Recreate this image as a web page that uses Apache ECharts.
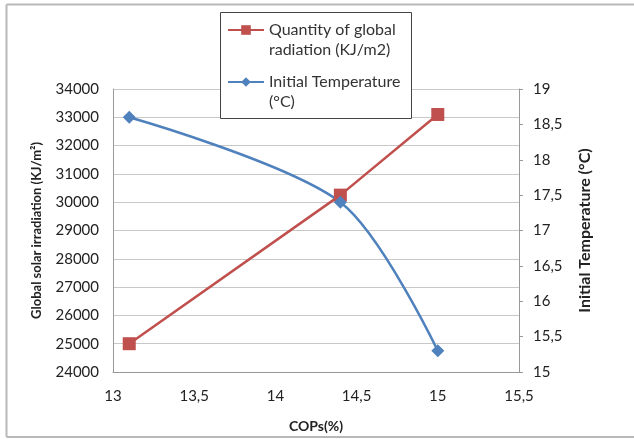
<!DOCTYPE html>
<html>
<head>
<meta charset="utf-8">
<script src="https://cdn.jsdelivr.net/npm/echarts@6/dist/echarts.min.js"></script>
<style>
html,body{margin:0;padding:0;background:#fff;}
#main{width:634px;height:439px;}
</style>
</head>
<body>
<div id="main"></div>
<script>
const cops = [13.1, 14.4, 15.0];
const radiation = [25000, 30250, 33100];
const temperature = [18.6, 17.4, 15.3];
const seriesNames = ['Quantity of global\nradiation (KJ/m2)', 'Initial Temperature\n(°C)'];
const xTitle = 'COPs(%)';
const yLeftTitle = 'Global solar irradiation (KJ/m²)';
const yRightTitle = 'Initial Temperature (°C)';

const font = 'Lato';
const comma = v => String(v).replace('.', ',');
const chart = echarts.init(document.getElementById('main'), null, {renderer: 'canvas'});
chart.setOption({
  animation: false,
  backgroundColor: '#fff',
  textStyle: {fontFamily: font},
  graphic: [
    {type: 'line', z: 0, shape: {x1: 6.5, y1: 4.5, x2: 634, y2: 4.5}, style: {stroke: '#b8b8b8', lineWidth: 2}},
    {type: 'line', z: 0, shape: {x1: 6.5, y1: 4.5, x2: 6.5, y2: 437}, style: {stroke: '#b8b8b8', lineWidth: 2}},
    {type: 'line', z: 0, shape: {x1: 6.5, y1: 437, x2: 634, y2: 437}, style: {stroke: '#b8b8b8', lineWidth: 2}},
    {type: 'rect', z: 3, shape: {x: 220.5, y: 12.5, width: 191, height: 106}, style: {fill: '#fff', stroke: '#444', lineWidth: 1}}
  ],
  grid: {left: 113, right: 115, top: 89, bottom: 67},
  legend: {
    orient: 'vertical',
    left: 227, top: 0,
    padding: 0,
    itemWidth: 36, itemHeight: 12,
    itemGap: -8,
    formatter: name => '\n' + name,
    textStyle: {fontFamily: font, fontSize: 16, color: '#333', lineHeight: 20},
    data: seriesNames
  },
  xAxis: {
    type: 'value', min: 13, max: 15.5, interval: 0.5,
    name: xTitle, nameLocation: 'middle', nameGap: 47,
    nameTextStyle: {fontFamily: font, fontSize: 14, fontWeight: 'bold', color: '#222'},
    axisLine: {show: true, lineStyle: {color: '#999'}},
    axisTick: {show: false},
    axisLabel: {formatter: comma, fontSize: 15, color: '#222', margin: 17},
    splitLine: {show: false}
  },
  yAxis: [
    {
      type: 'value', min: 24000, max: 34000, interval: 1000,
      name: yLeftTitle, nameLocation: 'middle', nameGap: 70, nameRotate: 90,
      nameTextStyle: {fontFamily: font, fontSize: 13, fontWeight: 'bold', color: '#222'},
      axisLine: {show: true, lineStyle: {color: '#999'}},
      axisTick: {show: false},
      axisLabel: {formatter: v => String(v), fontSize: 15, color: '#222', margin: 14},
      splitLine: {show: true, lineStyle: {color: '#c8c8c8'}}
    },
    {
      type: 'value', min: 15, max: 19, interval: 0.5, position: 'right',
      name: yRightTitle, nameLocation: 'middle', nameGap: 58, nameRotate: 90,
      nameTextStyle: {fontFamily: font, fontSize: 16, fontWeight: 'bold', color: '#222'},
      axisLine: {show: true, lineStyle: {color: '#999'}},
      axisTick: {show: true, length: 4, lineStyle: {color: '#999'}},
      axisLabel: {formatter: comma, fontSize: 15, color: '#222', margin: 14},
      splitLine: {show: false}
    }
  ],
  series: [
    {
      name: seriesNames[0], type: 'line', yAxisIndex: 0,
      data: cops.map((c, i) => [c, radiation[i]]),
      symbol: 'rect', symbolSize: 13,
      lineStyle: {color: '#C0504D', width: 2.5},
      itemStyle: {color: '#C0504D'}
    },
    {
      name: seriesNames[1], type: 'line', yAxisIndex: 1,
      data: cops.map((c, i) => [c, temperature[i]]),
      smooth: 0.3,
      symbol: 'diamond', symbolSize: 13,
      lineStyle: {color: '#4F81BD', width: 2.5},
      itemStyle: {color: '#4F81BD'}
    }
  ]
});
</script>
</body>
</html>
